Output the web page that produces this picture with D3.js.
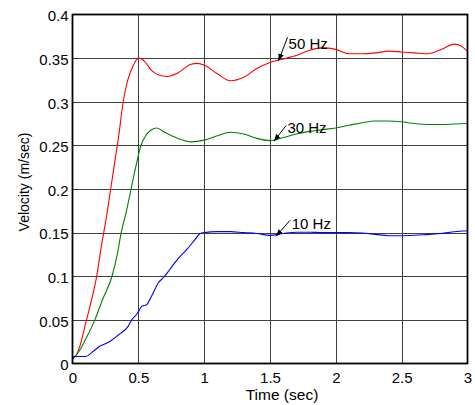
<!DOCTYPE html>
<html>
<head>
<meta charset="utf-8">
<script src="https://cdn.jsdelivr.net/npm/d3@7"></script>
<style>
  html, body { margin: 0; padding: 0; background: #fff; }
  svg { display: block; }
  text { font-family: "Liberation Sans", Arial, sans-serif; fill: #000; }
</style>
</head>
<body>
<svg id="chart" width="475" height="405"></svg>
<script>
// ---- Data ----
const xTicks = [0, 0.5, 1, 1.5, 2, 2.5, 3];
const xTickLabels = ["0", "0.5", "1", "1.5", "2", "2.5", "3"];
const yTicks = [0, 0.05, 0.1, 0.15, 0.2, 0.25, 0.3, 0.35, 0.4];
const yTickLabels = ["0", "0.05", "0.1", "0.15", "0.2", "0.25", "0.3", "0.35", "0.4"];

const series50Hz = [
  [0,0.005],[0.03,0.01],[0.06,0.022],[0.1,0.046],[0.14,0.07],[0.18,0.097],[0.22,0.135],
  [0.26,0.17],[0.29,0.2],[0.32,0.23],[0.35,0.26],[0.385,0.3],[0.42,0.325],[0.46,0.341],
  [0.5,0.35],[0.55,0.346],[0.6,0.336],[0.65,0.331],[0.72,0.329],[0.8,0.333],[0.9,0.343],
  [0.95,0.344],[1.0,0.342],[1.1,0.332],[1.2,0.324],[1.3,0.328],[1.4,0.338],[1.5,0.345],
  [1.6,0.349],[1.7,0.353],[1.8,0.359],[1.9,0.362],[2.0,0.36],[2.1,0.355],[2.2,0.355],
  [2.3,0.356],[2.4,0.358],[2.5,0.357],[2.6,0.356],[2.7,0.355],[2.8,0.36],[2.9,0.366],
  [2.95,0.364],[3.0,0.358]
];
const series30Hz = [
  [0,0.005],[0.05,0.014],[0.1,0.028],[0.17,0.05],[0.23,0.074],[0.3,0.1],[0.34,0.125],
  [0.37,0.15],[0.41,0.175],[0.445,0.2],[0.48,0.225],[0.52,0.25],[0.56,0.262],[0.6,0.268],
  [0.64,0.27],[0.7,0.265],[0.8,0.258],[0.9,0.254],[1.0,0.256],[1.1,0.261],[1.2,0.265],
  [1.3,0.263],[1.4,0.258],[1.5,0.2555],[1.6,0.259],[1.7,0.263],[1.8,0.266],[1.9,0.268],
  [2.0,0.27],[2.1,0.273],[2.2,0.276],[2.3,0.278],[2.4,0.278],[2.5,0.277],[2.6,0.275],
  [2.7,0.274],[2.8,0.274],[2.9,0.2745],[3.0,0.275]
];
const series10Hz = [
  [0,0.008],[0.1,0.008],[0.15,0.013],[0.21,0.02],[0.27,0.024],[0.3,0.027],[0.35,0.033],
  [0.42,0.042],[0.45,0.05],[0.49,0.057],[0.53,0.066],[0.56,0.067],[0.6,0.077],[0.65,0.092],
  [0.7,0.1],[0.74,0.108],[0.79,0.118],[0.87,0.131],[0.93,0.142],[0.97,0.149],[1.0,0.15],
  [1.1,0.1512],[1.2,0.1512],[1.3,0.15],[1.4,0.149],[1.5,0.1468],[1.6,0.149],[1.7,0.1505],
  [1.8,0.1505],[1.9,0.15],[2.0,0.15],[2.1,0.15],[2.2,0.1495],[2.3,0.148],[2.4,0.1465],
  [2.5,0.1465],[2.6,0.147],[2.7,0.148],[2.8,0.149],[2.9,0.151],[3.0,0.1522]
];
const seriesNames = ["50 Hz", "30 Hz", "10 Hz"];
const seriesColors = ["#ff0000", "#008000", "#0000ff"];
const annotationAnchors = [[1.565, 0.347], [1.531, 0.2548], [1.546, 0.1458]];

// ---- Layout ----
const svg = d3.select("#chart");
const pLeft = 72.5, pRight = 467.5, pTop = 14.5, pBottom = 363.5;

const x = d3.scaleLinear().domain([0, 3]).range([pLeft, pRight]);
const y = d3.scaleLinear().domain([0, 0.4]).range([pBottom, pTop]);

// grid
const grid = svg.append("g");
grid.selectAll("line.gx").data(xTicks.slice(1, -1)).enter().append("line")
  .attr("x1", d => Math.round(x(d)) + 0.5).attr("x2", d => Math.round(x(d)) + 0.5)
  .attr("y1", pTop).attr("y2", pBottom)
  .attr("stroke", "#404040").attr("stroke-width", 1);
grid.selectAll("line.gy").data(yTicks.slice(1, -1)).enter().append("line")
  .attr("y1", d => Math.round(y(d)) + 0.5).attr("y2", d => Math.round(y(d)) + 0.5)
  .attr("x1", pLeft).attr("x2", pRight)
  .attr("stroke", "#404040").attr("stroke-width", 1);

// axes (tick labels)
const xAxis = d3.axisBottom(x).tickValues(xTicks)
  .tickFormat((d, i) => xTickLabels[i]).tickSize(0).tickPadding(9);
const gx = svg.append("g").attr("transform", `translate(0,${pBottom})`).call(xAxis);
gx.select(".domain").remove();
gx.selectAll("text").attr("font-size", 15).attr("font-family", "Liberation Sans, Arial, sans-serif");

const yAxis = d3.axisLeft(y).tickValues(yTicks)
  .tickFormat((d, i) => yTickLabels[i]).tickSize(0).tickPadding(4);
const gy = svg.append("g").attr("transform", `translate(${pLeft},0)`).call(yAxis);
gy.select(".domain").remove();
gy.selectAll("text").attr("font-size", 15).attr("dy", "0.42em").attr("font-family", "Liberation Sans, Arial, sans-serif");

// lines
const line = d3.line().x(d => x(d[0])).y(d => y(d[1])).curve(d3.curveMonotoneX);
const allSeries = [series50Hz, series30Hz, series10Hz];
svg.append("g").selectAll("path").data(allSeries).enter().append("path")
  .attr("d", line).attr("fill", "none")
  .attr("stroke", (d, i) => seriesColors[i]).attr("stroke-width", 1.1);

// frame
svg.append("rect").attr("x", pLeft).attr("y", pTop)
  .attr("width", pRight - pLeft).attr("height", pBottom - pTop)
  .attr("fill", "none").attr("stroke", "#000").attr("stroke-width", 1.8);

// annotations
const defs = svg.append("defs");
defs.append("marker").attr("id", "arrow").attr("viewBox", "0 0 10 10")
  .attr("refX", 10).attr("refY", 5).attr("markerWidth", 7).attr("markerHeight", 7)
  .attr("markerUnits", "userSpaceOnUse").attr("orient", "auto")
  .append("path").attr("d", "M0,1 L10,5 L0,9 Z").attr("fill", "#000");

const arrowStart = [[9, -23.5], [12, -15.7], [14, -16]];
const textOffset = [[10, -11.7], [13.3, -8], [15.7, -7.7]];
const ann = svg.append("g");
annotationAnchors.forEach((a, i) => {
  const px = x(a[0]), py = y(a[1]);
  ann.append("line")
    .attr("x1", px + arrowStart[i][0]).attr("y1", py + arrowStart[i][1])
    .attr("x2", px).attr("y2", py)
    .attr("stroke", "#000").attr("stroke-width", 1)
    .attr("marker-end", "url(#arrow)");
  ann.append("text")
    .attr("x", px + textOffset[i][0]).attr("y", py + textOffset[i][1])
    .attr("font-size", 15).text(seriesNames[i]);
});

// axis labels
svg.append("text").attr("x", 282).attr("y", 400).attr("text-anchor", "middle")
  .attr("font-size", 15.5).text("Time (sec)");
svg.append("text").attr("transform", "translate(29,182) rotate(-90)")
  .attr("text-anchor", "middle").attr("font-size", 14).text("Velocity (m/sec)");
</script>
</body>
</html>
